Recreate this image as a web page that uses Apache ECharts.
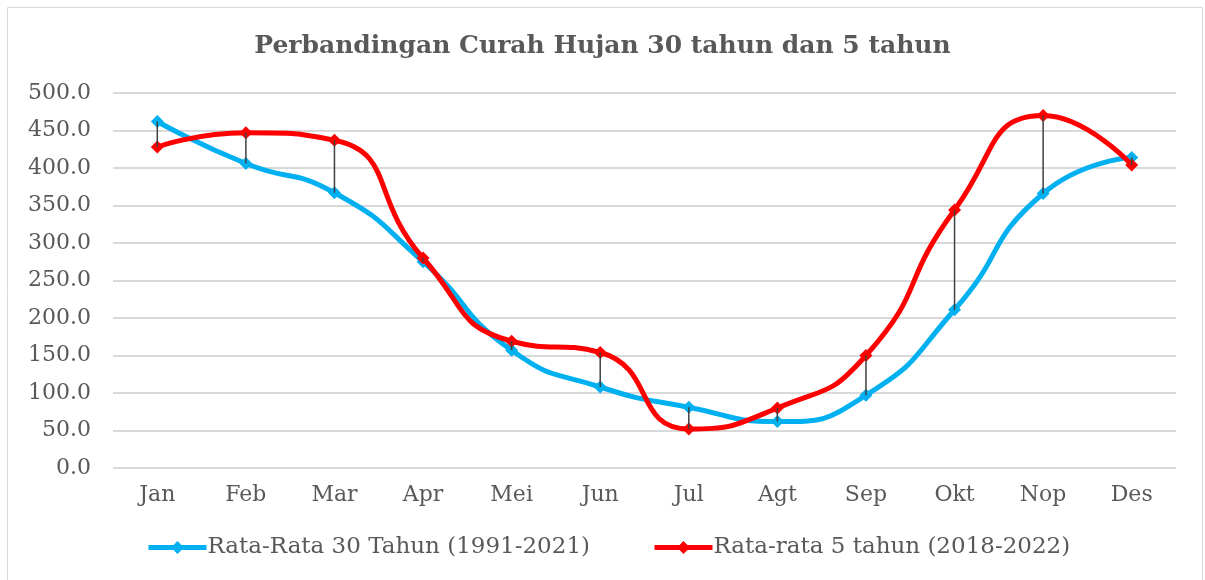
<!DOCTYPE html>
<html>
<head>
<meta charset="utf-8">
<script src="https://cdn.jsdelivr.net/npm/echarts@6/dist/echarts.min.js"></script>
<style>
html,body{margin:0;padding:0;background:#fff;}
#chart{width:1205px;height:580px;}
</style>
</head>
<body>
<div id="chart"></div>
<script>
var months = ['Jan','Feb','Mar','Apr','Mei','Jun','Jul','Agt','Sep','Okt','Nop','Des'];
var rata30 = [462, 406, 367, 275, 157, 108, 81, 62, 97, 211, 366, 414];
var rata5 = [428, 447, 437, 280, 169, 154, 52, 80, 150, 344, 470, 404];
var name30 = 'Rata-Rata 30 Tahun (1991-2021)';
var name5 = 'Rata-rata 5 tahun (2018-2022)';

var serif = '"DejaVu Serif", serif';
var grey = '#595959';

// garis hi-lo antara dua seri
var hilo = [];
for (var i = 0; i < months.length; i++) {
    hilo.push([i, rata30[i], rata5[i]]);
}

var chart = echarts.init(document.getElementById('chart'));
var option = {
    animation: false,
    title: {
        text: 'Perbandingan Curah Hujan 30 tahun dan 5 tahun',
        left: 'center',
        top: 29,
        textStyle: {fontFamily: serif, fontWeight: 'bold', fontSize: 25, color: grey}
    },
    graphic: [{
        type: 'rect',
        shape: {x: 7.5, y: 7.5, width: 1195, height: 590},
        style: {fill: 'none', stroke: '#d9d9d9', lineWidth: 1}
    }],
    grid: {left: 113, right: 29, top: 93, bottom: 112},
    legend: {
        bottom: 16,
        left: 141,
        itemWidth: 58,
        itemHeight: 16,
        itemGap: 62,
        lineStyle: {width: 5},
        textStyle: {fontFamily: serif, fontSize: 23, color: grey, padding: [0, 0, 0, -4]},
        data: [name30, name5]
    },
    xAxis: {
        type: 'category',
        data: months,
        axisLine: {show: false},
        axisTick: {show: false},
        axisLabel: {fontFamily: serif, fontSize: 22, color: grey, margin: 16}
    },
    yAxis: {
        type: 'value',
        min: 0,
        max: 500,
        interval: 50,
        axisLabel: {
            fontFamily: serif, fontSize: 22, color: grey, margin: 22,
            formatter: function (v) { return v.toFixed(1); }
        },
        splitLine: {lineStyle: {color: '#d9d9d9', width: 2}}
    },
    series: [
        {
            type: 'custom',
            z: 5,
            silent: true,
            data: hilo,
            renderItem: function (params, api) {
                var a = api.coord([api.value(0), api.value(1)]);
                var b = api.coord([api.value(0), api.value(2)]);
                return {
                    type: 'line',
                    shape: {x1: a[0], y1: a[1], x2: b[0], y2: b[1]},
                    style: {stroke: '#404040', lineWidth: 1.5}
                };
            }
        },
        {
            name: name30,
            type: 'line',
            data: rata30,
            smooth: 0.55,
            symbol: 'diamond',
            symbolSize: 13,
            z: 3,
            lineStyle: {color: '#00B0F0', width: 5},
            itemStyle: {color: '#00B0F0'}
        },
        {
            name: name5,
            type: 'line',
            data: rata5,
            smooth: 0.55,
            symbol: 'diamond',
            symbolSize: 13,
            z: 4,
            lineStyle: {color: '#FF0000', width: 5},
            itemStyle: {color: '#FF0000'}
        }
    ]
};
chart.setOption(option);
</script>
</body>
</html>
